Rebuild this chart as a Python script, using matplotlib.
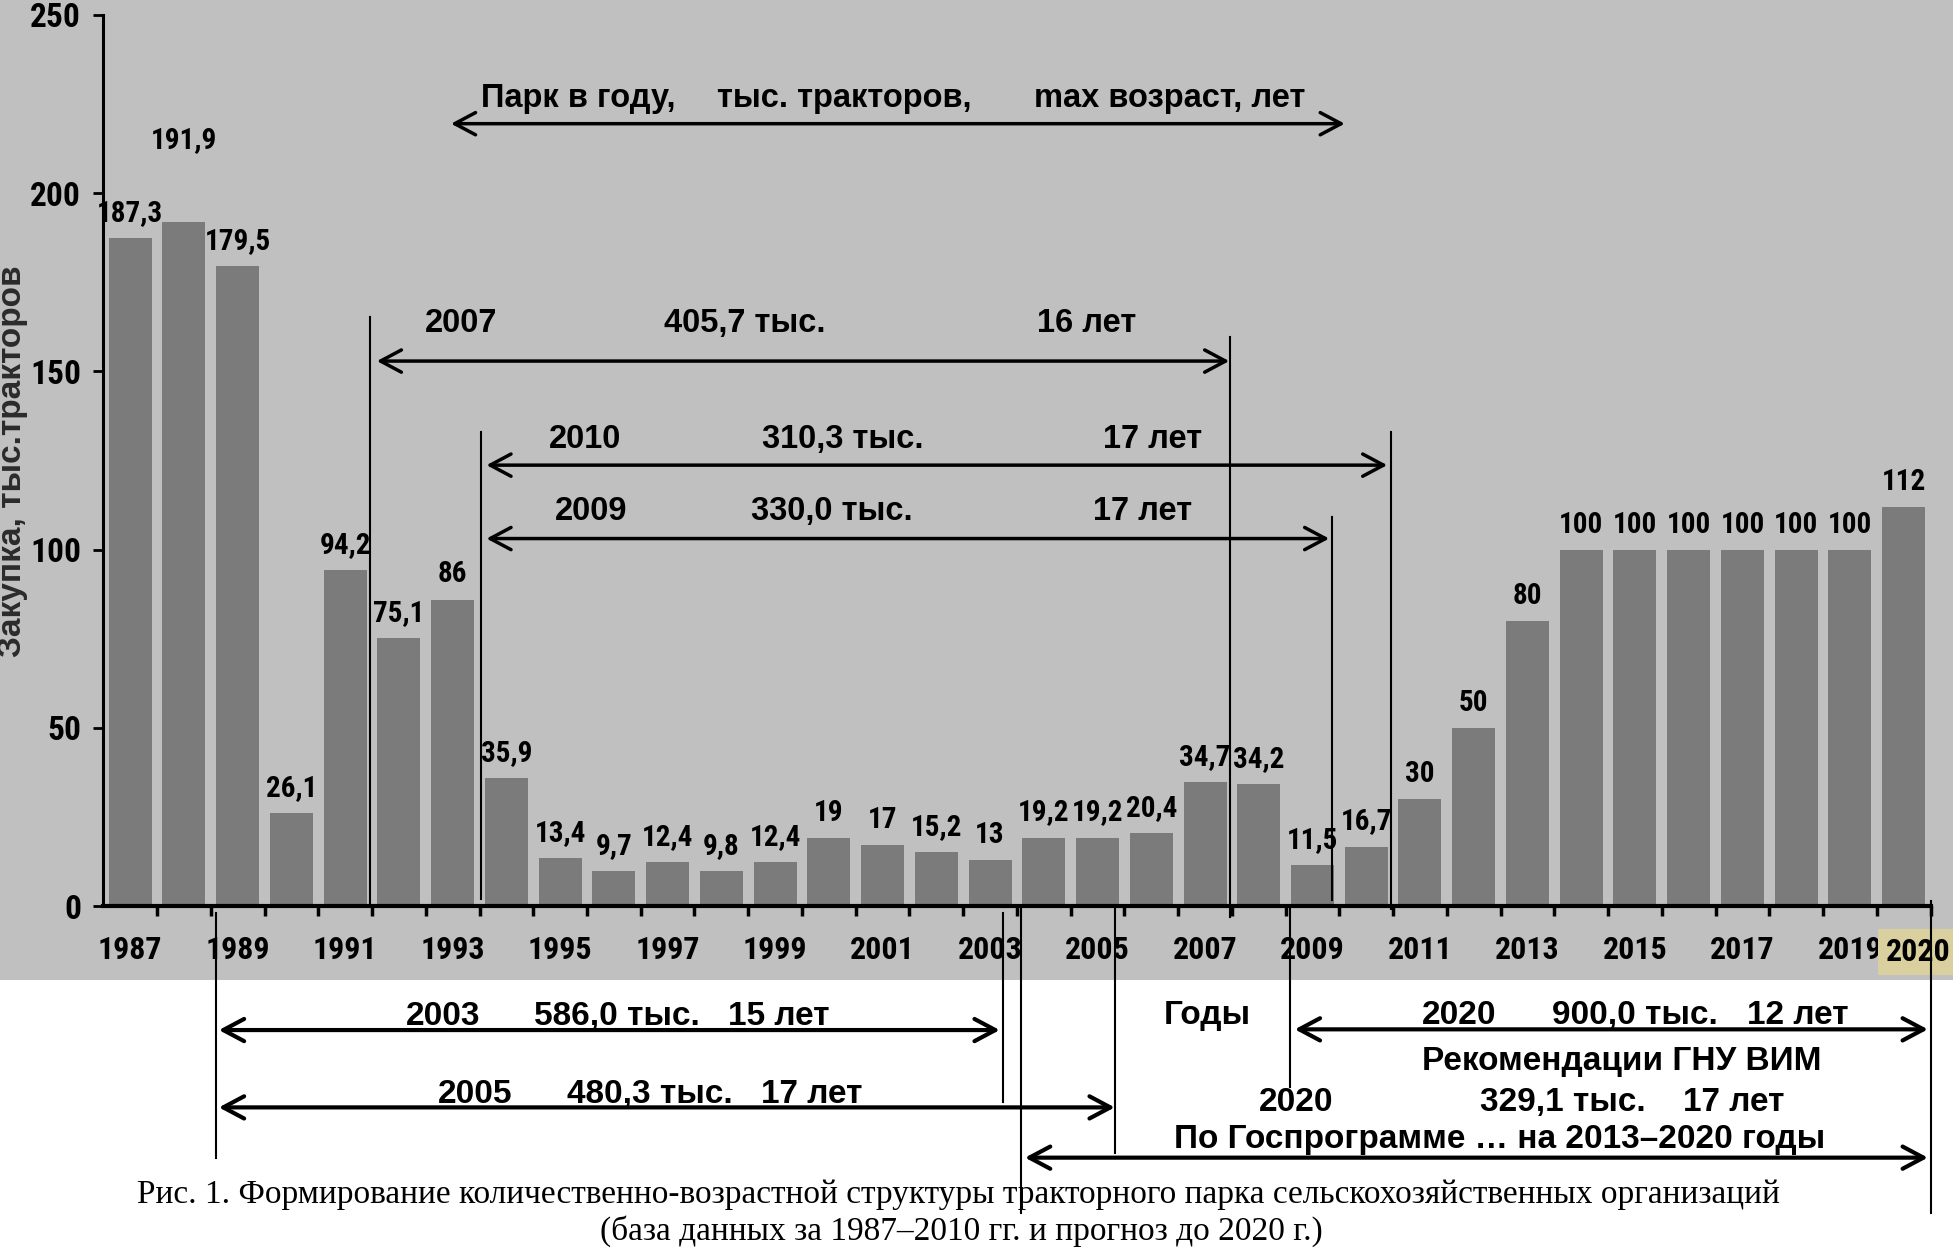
import matplotlib
matplotlib.use('Agg')
import matplotlib.pyplot as plt
from matplotlib import font_manager
from matplotlib.font_manager import FontProperties
from matplotlib.patches import Rectangle

# ---------------- data ----------------
years = list(range(1987, 2021))
values = [187.3, 191.9, 179.5, 26.1, 94.2, 75.1, 86, 35.9, 13.4, 9.7,
          12.4, 9.8, 12.4, 19, 17, 15.2, 13, 19.2, 19.2, 20.4,
          34.7, 34.2, 11.5, 16.7, 30, 50, 80, 100, 100, 100,
          100, 100, 100, 112]
value_labels = [f"{v:g}".replace('.', ',') for v in values]
tick_years = [str(y) for y in years[:-1:2]]          # 1987, 1989, ... 2019
last_year_label = "2020"

header = ["Парк в году,", "тыс. тракторов,", "max возраст, лет"]
row_2007 = ["2007", "405,7 тыс.", "16 лет"]
row_2010 = ["2010", "310,3 тыс.", "17 лет"]
row_2009 = ["2009", "330,0 тыс.", "17 лет"]
row_2003 = ["2003", "586,0 тыс.", "15 лет"]
row_2005 = ["2005", "480,3 тыс.", "17 лет"]
row_2020_vim = ["2020", "900,0 тыс.", "12 лет"]
row_2020_gp = ["2020", "329,1 тыс.", "17 лет"]
vim_title = "Рекомендации ГНУ ВИМ"
gp_title = "По Госпрограмме … на 2013–2020 годы"
x_title = "Годы"
y_title = "Закупка, тыс.тракторов"
caption1 = ("Рис. 1. Формирование количественно-возрастной структуры тракторного "
            "парка сельскохозяйственных организаций")
caption2 = "(база данных за 1987–2010 гг. и прогноз до 2020 г.)"

# ---------------- fonts ----------------
names = {f.name for f in font_manager.fontManager.ttflist}
narrow_family = None
for cand in ['Liberation Sans Narrow', 'Arial Narrow', 'Roboto Condensed',
             'Archivo Narrow', 'PT Sans Narrow']:
    if cand in names:
        narrow_family = cand
        break


def nfont(size):
    if narrow_family:
        return FontProperties(family=narrow_family, weight='bold', size=size)
    return FontProperties(family='DejaVu Sans', stretch='condensed', weight='bold', size=size * 0.9)


SANS = 'Liberation Sans' if 'Liberation Sans' in names else 'DejaVu Sans'
SERIF = 'Liberation Serif' if 'Liberation Serif' in names else 'DejaVu Serif'

BG = '#c0c0c0'
BAR = '#7b7b7b'

fig = plt.figure(figsize=(19.53, 12.49), dpi=100)
fig.patches.append(Rectangle((0, 0.2154), 1, 1 - 0.2154, transform=fig.transFigure,
                             facecolor=BG, edgecolor='none', zorder=-10))
ax = fig.add_axes([0.0529, 0.2746, 0.9885 - 0.0529, 0.988 - 0.2746])
ax.set_facecolor('none')

x = list(range(len(years)))
ax.bar(x, values, width=0.8, color=BAR, zorder=2)
ax.set_xlim(-0.5, len(years) - 0.5)
ax.set_ylim(0, 250)

for s in ['top', 'right']:
    ax.spines[s].set_visible(False)
ax.spines['left'].set_linewidth(2.2)
ax.spines['bottom'].set_linewidth(3)

ax.set_yticks(range(0, 251, 50))
ax.tick_params(axis='y', direction='out', length=7, width=2, pad=9)
for t in ax.get_yticklabels():
    t.set_fontproperties(nfont(24))

ax.set_xticks(x[:-1:2])
ax.set_xticklabels(tick_years)
for t in ax.get_xticklabels():
    t.set_fontproperties(nfont(23))
ax.set_xticks([i + 0.5 for i in x], minor=True)
ax.tick_params(axis='x', which='major', length=0, pad=21)
ax.tick_params(axis='x', which='minor', direction='out', length=7, width=2.5)

ax.annotate(last_year_label, xy=(x[-1] + 0.28, 0), xytext=(0, -22), textcoords='offset points',
            ha='center', va='top', fontproperties=nfont(23),
            bbox=dict(boxstyle='square,pad=0.25', facecolor='#d9cf9f', edgecolor='none'),
            annotation_clip=False)

# value labels
for i, (v, lab) in enumerate(zip(values, value_labels)):
    off = 20.7 if i == 1 else 4.8
    ax.text(i, v + off, lab, ha='center', va='baseline', fontproperties=nfont(21), zorder=4)

# ---------------- annotations ----------------
def arrow(x0, x1, y, lw=2.5):
    ax.annotate('', xy=(x1, y), xytext=(x0, y),
                arrowprops=dict(arrowstyle='<->,head_length=0.75,head_width=0.4', lw=lw,
                                color='black', shrinkA=0, shrinkB=0, mutation_scale=20),
                annotation_clip=False)


def vline(xv, y0, y1):
    ax.plot([xv, xv], [y0, y1], color='black', lw=1.5, clip_on=False, zorder=3)


def texts(items, xs, y, size=23.5):
    for s, xv in zip(items, xs):
        ax.text(xv, y, s, ha='center', va='baseline', fontfamily=SANS,
                fontweight='bold', fontsize=size, zorder=5)


arrow(5.97, 22.60, 219.5)
texts(header, [8.33, 13.28, 19.35], 224.2)

vline(4.47, 165.3, 0)
vline(6.53, 133.0, 2)
vline(20.47, 159.7, -3)
vline(22.36, 109.2, 1.7)
vline(23.46, 133.0, -0.8)
vline(1.60, -1.9, -70.7)
vline(16.25, -2, -54.9)
vline(16.58, -0.6, -86)
vline(18.32, -0.6, -69.2)
vline(21.58, -0.6, -50.7)
vline(33.51, 1.5, -86)

arrow(4.59, 20.45, 152.9)
texts(row_2007, [6.15, 11.44, 17.80], 161.1)
arrow(6.63, 23.39, 123.7)
texts(row_2010, [8.46, 13.26, 19.03], 128.6)
arrow(6.63, 22.31, 103.1)
texts(row_2009, [8.58, 13.05, 18.83], 108.3)

arrow(1.65, 16.18, -34.8, 3)
texts(row_2003, [5.83, 9.05, 12.06], -33.4, 24)
arrow(1.65, 18.32, -56.5, 3)
texts(row_2005, [6.42, 9.66, 12.69], -55.2, 24)
arrow(21.67, 33.45, -34.6, 3)
texts(row_2020_vim, [24.73, 28.0, 31.02], -33.1, 24)
texts([vim_title], [27.75], -46.0, 24)
texts(row_2020_gp, [21.69, 26.66, 29.83], -57.4, 24)
arrow(16.65, 33.45, -70.6, 3)
texts([gp_title], [25.48], -68.0, 24)
texts([x_title], [20.05], -33.1, 24)

fig.text(0.0062, 0.631, y_title, rotation=90, ha='center', va='center',
         fontfamily=SANS, fontweight='bold', fontsize=24, color='#2b2b2b')

fig.text(0.491, 0.0368, caption1, ha='center', va='baseline', fontfamily=SERIF, fontsize=24)
fig.text(0.492, 0.0072, caption2, ha='center', va='baseline', fontfamily=SERIF, fontsize=24)

fig.savefig('out.png', dpi=100)
